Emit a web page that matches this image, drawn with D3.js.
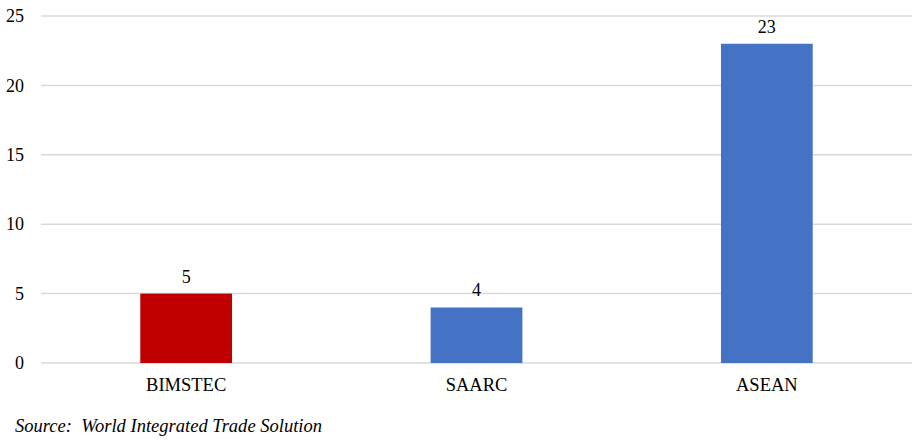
<!DOCTYPE html>
<html>
<head>
<meta charset="utf-8">
<script src="https://cdn.jsdelivr.net/npm/d3@7"></script>
<style>
  html, body { margin: 0; padding: 0; background: #fff; }
  svg { display: block; }
</style>
</head>
<body>
<svg id="chart" width="924" height="442"></svg>
<script>
const categories = ["BIMSTEC", "SAARC", "ASEAN"];
const values = [5, 4, 23];
const barColors = ["#c00000", "#4472c4", "#4472c4"];
const yTicks = [0, 5, 10, 15, 20, 25];
const sourceText = "Source:  World Integrated Trade Solution";

const FONT = "Liberation Serif";
const svg = d3.select("#chart");
const margin = { left: 41, right: 12, top: 16, bottom: 79 };
const W = 924, H = 442;

const x = d3.scaleBand().domain(categories).range([margin.left, W - margin.right]).paddingInner(0.684).paddingOuter(0.342);
const y = d3.scaleLinear().domain([0, 25]).range([H - margin.bottom, margin.top]);

// gridlines
svg.append("g").selectAll("line").data(yTicks).join("line")
  .attr("x1", margin.left).attr("x2", W - margin.right)
  .attr("y1", d => y(d)).attr("y2", d => y(d))
  .attr("stroke", "#d9d9d9").attr("stroke-width", 1.5);

// y axis labels
const yAxis = d3.axisLeft(y).tickValues(yTicks).tickSize(0).tickPadding(17);
const ya = svg.append("g").attr("transform", `translate(${margin.left},0)`).call(yAxis);
ya.select(".domain").remove();
ya.selectAll("text").attr("font-family", FONT).attr("font-size", 18).attr("fill", "#000");

// bars
svg.append("g").selectAll("rect").data(categories).join("rect")
  .attr("x", d => x(d)).attr("width", x.bandwidth())
  .attr("y", (d, i) => y(values[i])).attr("height", (d, i) => y(0) - y(values[i]))
  .attr("fill", (d, i) => barColors[i]);

// value labels
svg.append("g").selectAll("text").data(categories).join("text")
  .attr("x", d => x(d) + x.bandwidth() / 2)
  .attr("y", (d, i) => y(values[i]) - 11)
  .attr("text-anchor", "middle").attr("font-family", FONT).attr("font-size", 18).attr("fill", "#000")
  .text((d, i) => values[i]);

// x axis labels
const xAxis = d3.axisBottom(x).tickSize(0).tickPadding(15);
const xa = svg.append("g").attr("transform", `translate(0,${y(0)})`).call(xAxis);
xa.select(".domain").remove();
xa.selectAll("text").attr("font-family", FONT).attr("font-size", 18.5).attr("fill", "#000");

// source
svg.append("text").attr("x", 15).attr("y", 432)
  .attr("font-family", FONT).attr("font-size", 18.5).attr("font-style", "italic").attr("fill", "#000")
  .attr("textLength", 307).attr("lengthAdjust", "spacing")
  .style("white-space", "pre")
  .text(sourceText);
</script>
</body>
</html>
